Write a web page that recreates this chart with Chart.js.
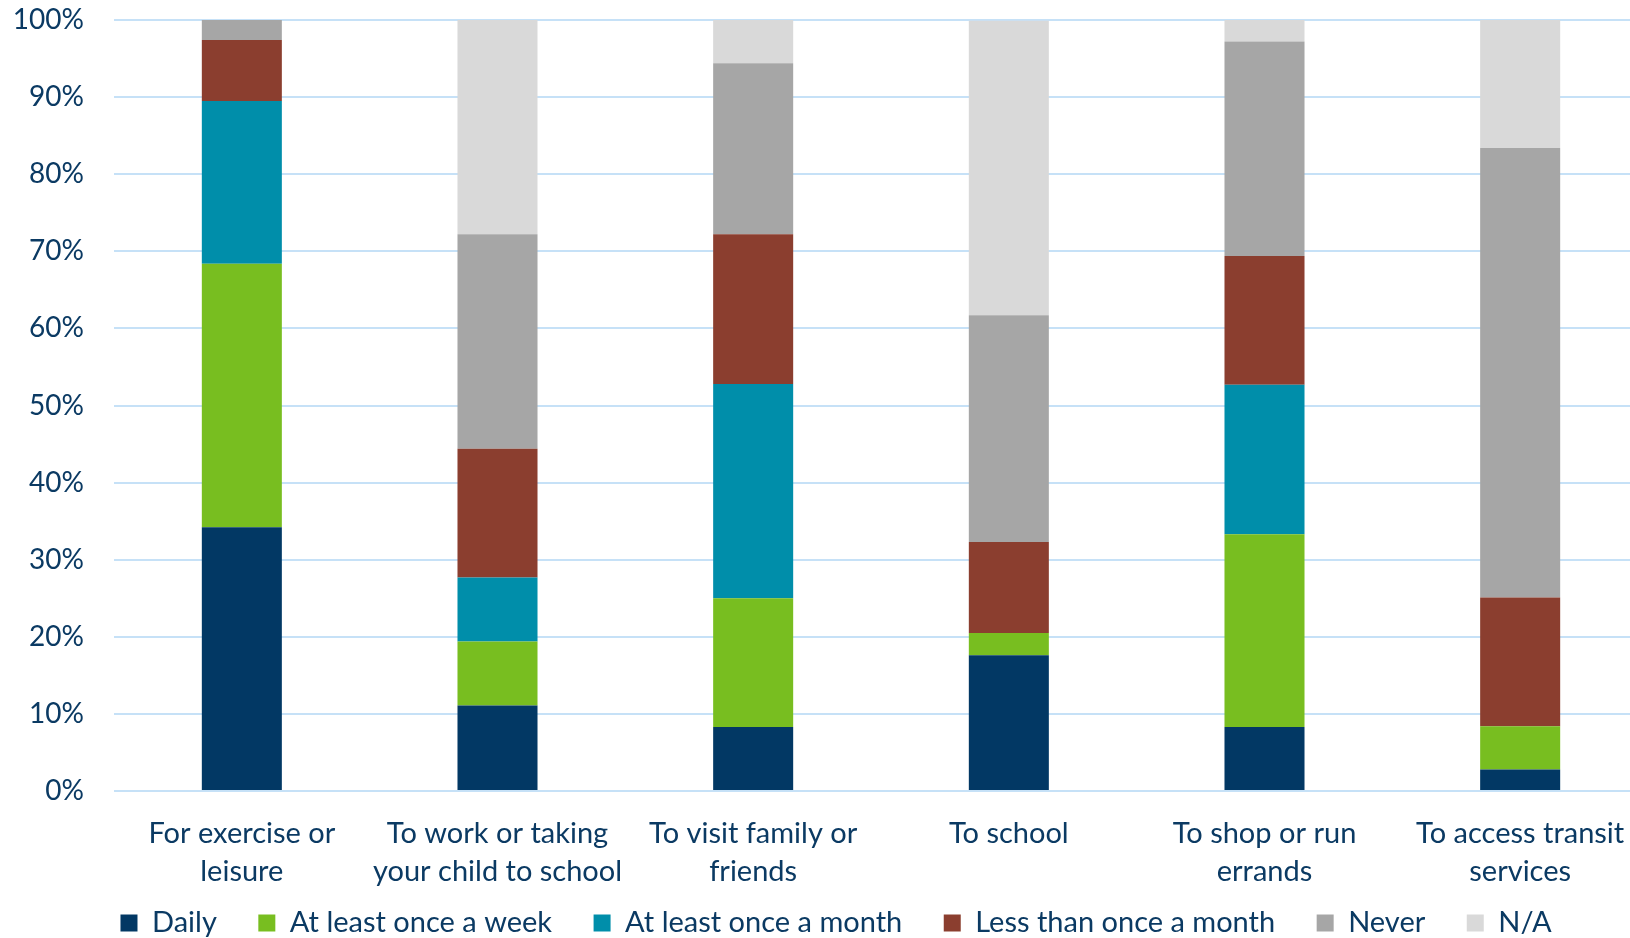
<!DOCTYPE html>
<html>
<head>
<meta charset="utf-8">
<script src="https://cdn.jsdelivr.net/npm/chart.js@4"></script>
<style>
  html, body { margin: 0; padding: 0; background: #fff; overflow: hidden; }
  #wrap { width: 1652px; height: 938px; }
</style>
</head>
<body>
<div id="wrap"><canvas id="chart" width="1652" height="938"></canvas></div>
<script>
// Trip purposes (x axis)
const purposes = [
  ['For exercise or', 'leisure'],
  ['To work or taking', 'your child to school'],
  ['To visit family or', 'friends'],
  'To school',
  ['To shop or run', 'errands'],
  ['To access transit', 'services'],
];

// Share of respondents (%) per frequency
const daily       = [34.2, 11.1,  8.3, 17.6,  8.3,  2.8];
const weekly      = [34.2,  8.3, 16.7,  2.9, 25.0,  5.6];
const monthly     = [21.1,  8.3, 27.8,  0.0, 19.4,  0.0];
const lessMonthly = [ 7.9, 16.7, 19.4, 11.8, 16.7, 16.7];
const never       = [ 2.6, 27.8, 22.2, 29.4, 27.8, 58.3];
const notApplic   = [ 0.0, 27.8,  5.6, 38.2,  2.8, 16.7];

const yTicks = [0, 10, 20, 30, 40, 50, 60, 70, 80, 90, 100];

const textColor = '#0b3a63';
const font = { family: 'Lato, "Open Sans", sans-serif', size: 29, lineHeight: 1.33 };
const tickFont = { family: 'Lato, "Open Sans", sans-serif', size: 28 };

const series = [
  { label: 'Daily',                  data: daily,       color: '#023864' },
  { label: 'At least once a week',   data: weekly,      color: '#78be20' },
  { label: 'At least once a month',  data: monthly,     color: '#008eaa' },
  { label: 'Less than once a month', data: lessMonthly, color: '#8b3e2f' },
  { label: 'Never',                  data: never,       color: '#a6a6a6' },
  { label: 'N/A',                    data: notApplic,   color: '#d9d9d9' },
];

// legend strip: short box, row pulled up under the axis labels
const legendPlacement = {
  id: 'legendPlacement',
  beforeInit(chart) {
    const fit = chart.legend.fit;
    chart.legend.fit = function () {
      fit.call(this);
      this.height = 37;
    };
  },
  afterLayout(chart) {
    const lg = chart.legend;
    lg.top -= 34;      // bottom stays, so the legend clip box still holds the row
    lg.left += 12;
    lg.right += 12;
  },
};

new Chart(document.getElementById('chart'), {
  type: 'bar',
  data: {
    labels: purposes,
    datasets: series.map(s => ({
      label: s.label,
      data: s.data,
      backgroundColor: s.color,
      borderWidth: 0,
      barPercentage: 0.313,
      categoryPercentage: 1,
    })),
  },
  plugins: [legendPlacement],
  options: {
    responsive: false,
    animation: false,
    layout: { padding: { top: 20, right: 4, left: 0, bottom: 0 } },
    plugins: {
      tooltip: { enabled: false },
      legend: {
        position: 'bottom',
        labels: {
          color: textColor,
          font: font,
          boxWidth: 17,
          boxHeight: 17,
          padding: 41.5,
        },
      },
    },
    scales: {
      x: {
        stacked: true,
        grid: { display: false },
        border: { display: false },
        ticks: { color: textColor, font: font, padding: 15, maxRotation: 0, autoSkip: false },
        afterFit: s => { s.height = 110; },
      },
      y: {
        stacked: true,
        min: 0,
        max: 100,
        afterBuildTicks: s => { s.ticks = yTicks.map(v => ({ value: v })); },
        grid: { color: '#c6e1f7', lineWidth: 2, drawTicks: false },
        border: { display: false },
        ticks: { color: textColor, font: tickFont, padding: 30, callback: v => v + '%' },
        afterFit: s => { s.width = 114; s.paddingTop = 0; s.paddingBottom = 0; },
      },
    },
  },
});
</script>
</body>
</html>
